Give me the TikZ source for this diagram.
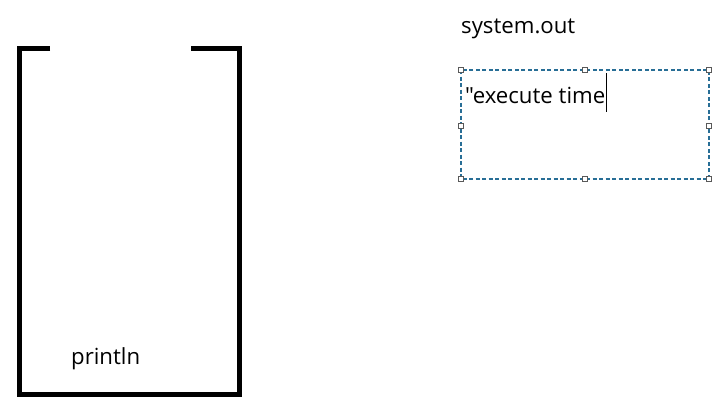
\documentclass[tikz,border=0pt]{standalone}
\usepackage{fontspec}
\newfontfamily\uifont{Open Sans}
\usepackage{tikz}

\tikzset{
  handle/.style={draw=black!65, fill=white, minimum size=5pt, inner sep=0pt, line width=0.8pt},
  label text/.style={anchor=base west, inner sep=0pt, font=\uifont\fontsize{22.2}{26}\selectfont}
}
\definecolor{boxblue}{RGB}{40,110,150}

\begin{document}
\begin{tikzpicture}[x=1pt,y=-1pt]
              \useasboundingbox (0,0) rectangle (725,416);
              % open container
              \draw[line width=4.5pt] (50,48.5) -- (19.5,48.5) -- (19.5,394.5) -- (239.5,394.5) -- (239.5,48.5) -- (191,48.5);
              \node[label text](P) at (71,364) {println};

              \node[label text](S) at (461,33) {system.out};

              % selected text box
              \draw[boxblue, line width=1.1pt, dash pattern=on 4pt off 2.5pt] (461,70) rectangle (709,179);
              \foreach \x in {461,585,709}
                \foreach \y in {70,179}
                  \node[handle] at (\x,\y) {};
              \node[handle] at (461,125.5) {};
              \node[handle] at (709,125.5) {};
              \node[label text](T) at (465,103) {"execute time};
              \draw[line width=1.3pt] (T.base east) ++(1,-30) coordinate (c1) -- ++(0,39);
             \end{tikzpicture}
\end{document}
